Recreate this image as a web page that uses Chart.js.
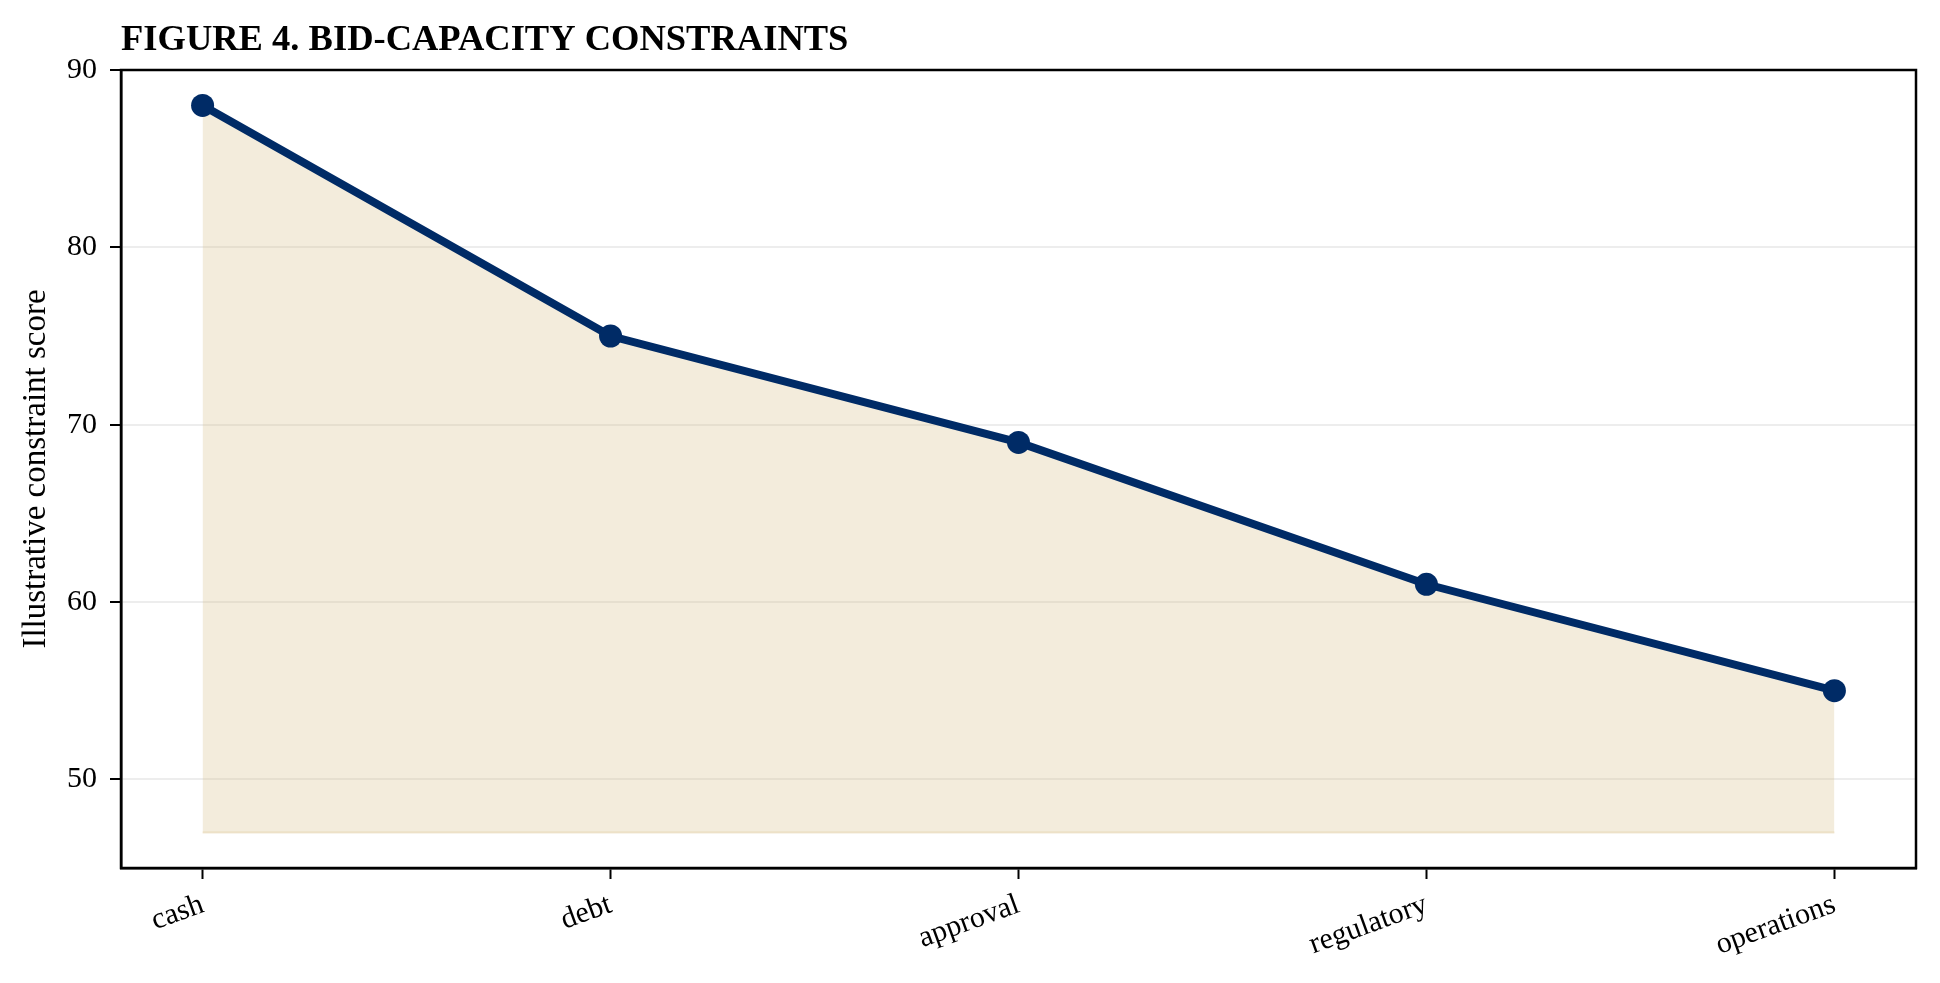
<!DOCTYPE html>
<html>
<head>
<meta charset="utf-8">
<title>Figure 4. Bid-capacity constraints</title>
<script src="https://cdn.jsdelivr.net/npm/chart.js@4.4.1/dist/chart.umd.min.js"></script>
<style>
  html, body { margin: 0; padding: 0; background: #fff; }
  #wrap { width: 1940px; height: 983px; }
</style>
</head>
<body>
<div id="wrap"><canvas id="chart" width="1940" height="983"></canvas></div>
<script>
"use strict";

const TITLE = "FIGURE 4. BID-CAPACITY CONSTRAINTS";
const Y_LABEL = "Illustrative constraint score";
const CATEGORIES = ["cash", "debt", "approval", "regulatory", "operations"];
const SCORES = [88, 75, 69, 61, 55];
const Y_TICKS = [50, 60, 70, 80, 90];
const FILL_BASE = 47;

const SERIF = "'Liberation Serif', 'DejaVu Serif', serif";
const NAVY = "#002b66";

// full box around the plot area plus the left-aligned bold title
const framePlugin = {
  id: "frame",
  afterDraw(chart) {
    const { ctx, chartArea: a } = chart;
    ctx.save();
    ctx.strokeStyle = "#000";
    ctx.lineWidth = 2.5;
    ctx.strokeRect(a.left, a.top, a.right - a.left, a.bottom - a.top);
    ctx.fillStyle = "#000";
    ctx.font = `bold 36.5px ${SERIF}`;
    ctx.textAlign = "left";
    ctx.textBaseline = "alphabetic";
    ctx.fillText(TITLE, a.left, 50);
    ctx.restore();
  },
};

function initChart() {
  const points = SCORES.map((v, i) => ({ x: i, y: v }));
  const baseEdge = CATEGORIES.map((_, i) => ({ x: i, y: FILL_BASE }));

  new Chart(document.getElementById("chart"), {
    type: "line",
    data: {
      datasets: [
        {
          label: "score",
          data: points,
          borderColor: NAVY,
          backgroundColor: "rgba(207,179,115,0.25)",
          borderWidth: 8,
          pointRadius: 11.5,
          pointHoverRadius: 11.5,
          pointBackgroundColor: NAVY,
          pointBorderWidth: 0,
          tension: 0,
          fill: { value: FILL_BASE },
        },
        {
          label: "fill edge",
          data: baseEdge,
          borderColor: "rgba(207,179,115,0.3)",
          borderWidth: 2,
          pointRadius: 0,
          fill: false,
        },
      ],
    },
    options: {
      responsive: false,
      animation: false,
      devicePixelRatio: 1,
      layout: { padding: { left: 0, top: 70, right: 24, bottom: 0 } },
      plugins: {
        legend: { display: false },
        tooltip: { enabled: false },
        title: { display: false },
      },
      scales: {
        x: {
          type: "linear",
          min: -0.2,
          max: 4.2,
          afterBuildTicks: (axis) => { axis.ticks = CATEGORIES.map((_, i) => ({ value: i })); },
          afterFit: (scale) => { scale.height = 115; },
          ticks: {
            callback: (v) => CATEGORIES[v],
            color: "#000",
            font: { family: SERIF, size: 30 },
            minRotation: 20,
            maxRotation: 20,
            padding: 8,
            autoSkip: false,
          },
          grid: { drawOnChartArea: false, color: "#000", tickColor: "#000", tickLength: 11, tickWidth: 2 },
          border: { color: "#000", width: 2.5 },
        },
        y: {
          min: 45,
          max: 90,
          afterBuildTicks: (axis) => { axis.ticks = Y_TICKS.map((v) => ({ value: v })); },
          afterFit: (scale) => { scale.width = 121; },
          ticks: {
            color: "#000",
            font: { family: SERIF, size: 30 },
            padding: 13,
          },
          grid: { color: "rgba(0,0,0,0.07)", lineWidth: 2, tickColor: "#000", tickLength: 11, tickWidth: 2 },
          border: { color: "#000", width: 2.5 },
          title: {
            display: true,
            text: Y_LABEL,
            color: "#000",
            font: { family: SERIF, size: 33 },
            padding: { top: 17, bottom: 0 },
          },
        },
      },
    },
    plugins: [framePlugin],
  });
}

initChart();
</script>
</body>
</html>
